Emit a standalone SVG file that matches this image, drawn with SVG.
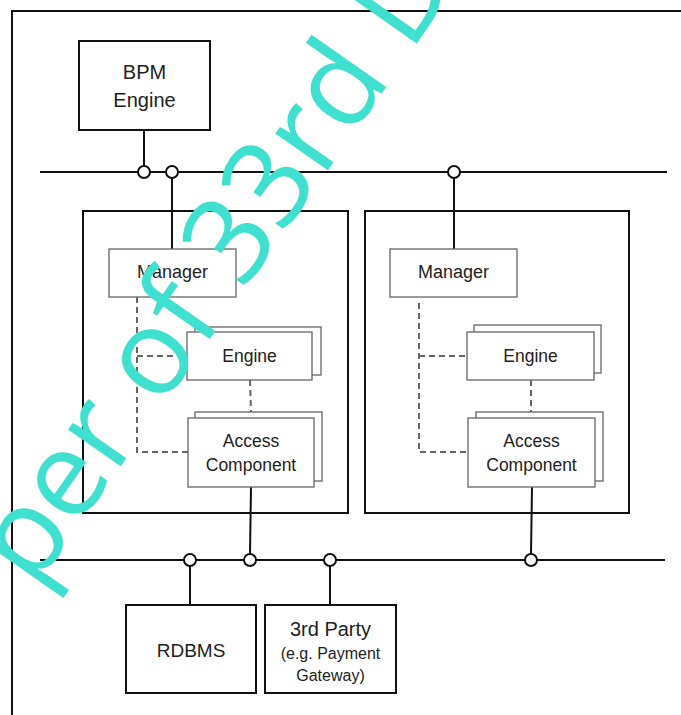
<svg xmlns="http://www.w3.org/2000/svg" width="681" height="715" viewBox="0 0 681 715">
<style>
  .frame{fill:none;stroke:#111;stroke-width:2}
  .box{fill:#fff;stroke:#111;stroke-width:2}
  .sub{fill:#fff;stroke:#666;stroke-width:1.3}
  .line{fill:none;stroke:#111;stroke-width:2}
  .dash{fill:none;stroke:#666;stroke-width:2;stroke-dasharray:6 4}
  .port{fill:#fff;stroke:#111;stroke-width:2}
  text{font-family:"Liberation Sans",Arial,sans-serif;fill:#222;text-anchor:middle}
  .t20{font-size:20px}
  .t19{font-size:19px}
  .t18{font-size:18px}
  .t17{font-size:17.5px}
  .t16{font-size:16px}
  .wm{font-family:"Open Sans","Noto Sans",sans-serif;font-size:120px;fill:#40E0D0;text-anchor:start}
</style>
<rect width="681" height="715" fill="#fff"/>
<path class="frame" d="M12,715 V11 H681"/>

<g id="connectors">
  <line class="line" x1="40" y1="172" x2="667" y2="172"/>
  <line class="line" x1="40" y1="560" x2="665" y2="560"/>
  <line class="line" x1="144" y1="130" x2="144" y2="166"/>
  <line class="line" x1="172" y1="178" x2="172" y2="249"/>
  <line class="line" x1="454" y1="178" x2="454" y2="249"/>
  <line class="line" x1="251" y1="487" x2="250" y2="554"/>
  <line class="line" x1="532" y1="487" x2="531" y2="554"/>
  <line class="line" x1="190" y1="566" x2="190" y2="605"/>
  <line class="line" x1="330" y1="566" x2="330" y2="605"/>
  <path class="dash" d="M137,297 V452 H188 M137,356 H187 M250,380 L251,412"/>
  <path class="dash" d="M419,303 V452 H468 M419,356 H467 M531,380 V412"/>
  <circle class="port" cx="144" cy="172" r="6"/>
  <circle class="port" cx="172" cy="172" r="6"/>
  <circle class="port" cx="454" cy="172" r="6"/>
  <circle class="port" cx="190" cy="560" r="6"/>
  <circle class="port" cx="250" cy="560" r="6"/>
  <circle class="port" cx="330" cy="560" r="6"/>
  <circle class="port" cx="531" cy="560" r="6"/>
</g>

<g id="bpm-engine">
  <rect class="box" x="79" y="41" width="131" height="89"/>
  <text class="t20" x="144.5" y="79">BPM</text>
  <text class="t20" x="144.5" y="107">Engine</text>
</g>

<g id="container-left">
  <rect class="frame" x="83" y="211" width="265" height="302"/>
</g>
<g id="container-right">
  <rect class="frame" x="365" y="211" width="264" height="302"/>
</g>

<g id="manager-left">
  <rect class="sub" x="109" y="249" width="127" height="48"/>
  <text class="t18" x="172.5" y="278">Manager</text>
</g>
<g id="engine-left">
  <rect class="sub" x="195" y="327" width="126" height="48"/>
  <rect class="sub" x="187" y="332" width="125" height="48"/>
  <text class="t17" x="249.5" y="362">Engine</text>
</g>
<g id="access-left">
  <rect class="sub" x="195" y="412" width="127" height="69"/>
  <rect class="sub" x="188" y="418" width="126" height="69"/>
  <text class="t17" x="251" y="447">Access</text>
  <text class="t17" x="251" y="471">Component</text>
</g>

<g id="manager-right">
  <rect class="sub" x="390" y="249" width="127" height="48"/>
  <text class="t18" x="453.5" y="278">Manager</text>
</g>
<g id="engine-right">
  <rect class="sub" x="474" y="325" width="127" height="48"/>
  <rect class="sub" x="467" y="332" width="127" height="48"/>
  <text class="t17" x="530.5" y="362">Engine</text>
</g>
<g id="access-right">
  <rect class="sub" x="476" y="412" width="127" height="69"/>
  <rect class="sub" x="468" y="418" width="127" height="69"/>
  <text class="t17" x="531.5" y="447">Access</text>
  <text class="t17" x="531.5" y="471">Component</text>
</g>

<g id="rdbms">
  <rect class="box" x="126" y="605" width="130" height="88"/>
  <text class="t19" x="191" y="657">RDBMS</text>
</g>
<g id="third-party">
  <rect class="box" x="265" y="605" width="131" height="88"/>
  <text class="t20" x="330.5" y="636">3rd Party</text>
  <text class="t16" x="330.5" y="659">(e.g. Payment</text>
  <text class="t16" x="330.5" y="681">Gateway)</text>
</g>

<text class="wm" transform="translate(34,590) rotate(-55)">per of 33rd D</text>
</svg>
